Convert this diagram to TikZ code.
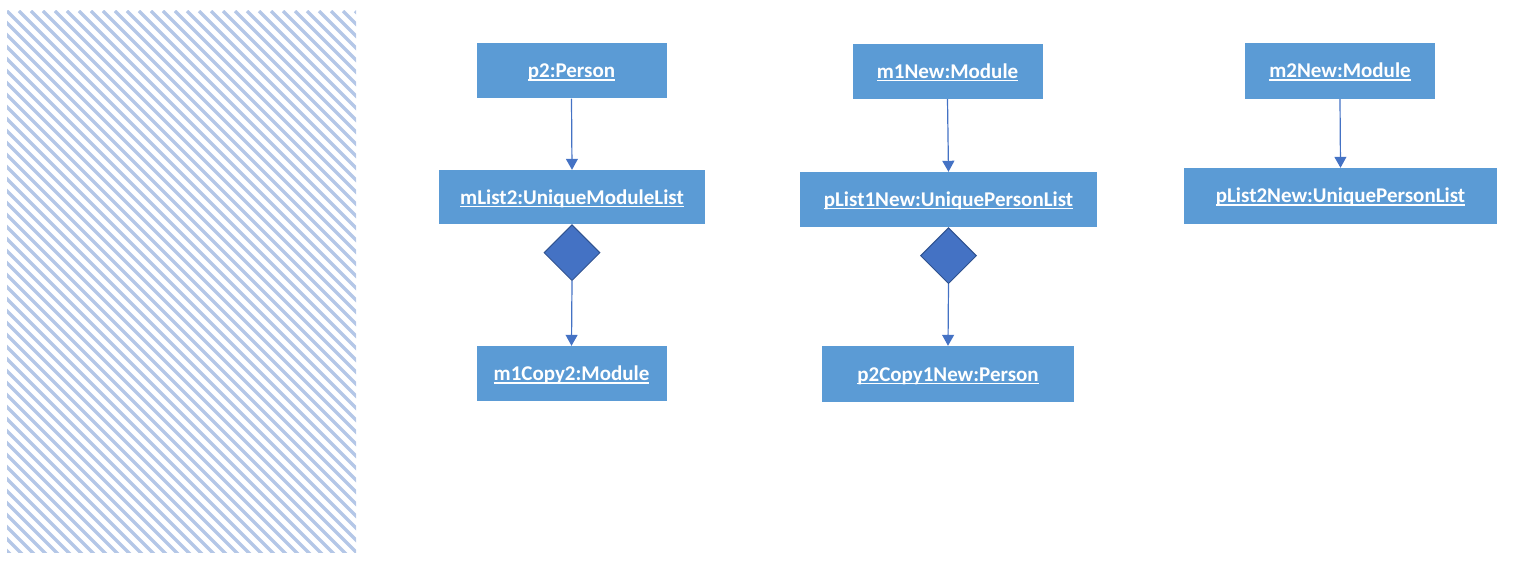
\documentclass[tikz,border=0pt]{standalone}
\usepackage{fontspec}
\setmainfont{Carlito}
\usetikzlibrary{arrows.meta,shapes.geometric}
\definecolor{boxblue}{HTML}{5B9BD5}
\definecolor{linkblue}{HTML}{4472C4}
\definecolor{diaborder}{HTML}{2F528F}
\definecolor{hatch}{HTML}{B4C7E7}
\newcommand{\ulbox}[1]{\setbox0\hbox{#1}\rlap{\rule[-3pt]{\wd0}{1.5pt}}\box0}
\tikzset{
  objbox/.style={rectangle, fill=boxblue, text=white, inner sep=0pt,
    font=\fontsize{21}{25}\selectfont\bfseries},
  compdia/.style={diamond, fill=linkblue, draw=diaborder, line width=1pt,
    inner sep=0pt, minimum width=56pt, minimum height=56pt, anchor=north},
  arr/.style={draw=linkblue, line width=1.2pt, -{Triangle[length=11pt,width=12pt]}}
}
\newcommand{\lbl}[1]{\raisebox{-7pt}[0pt][0pt]{\ulbox{#1}}}
\begin{document}
\begin{tikzpicture}[x=1pt,y=-1pt]
\useasboundingbox (0,0) rectangle (1516,567);
% hatched panel
\begin{scope}
\clip (7,11) rectangle (356,552);
\foreach \k in {-46,...,30} {
  \draw[hatch, line width=3.2pt] (7+\k*12,11) -- (7+\k*12+560,571);
}
\end{scope}
% boxes
\node[objbox, minimum width=190pt, minimum height=55pt] (p2) at (571.5,71) {\lbl{p2:Person}};
\node[objbox, minimum width=266pt, minimum height=54pt] (ml2) at (572,197) {\lbl{mList2:UniqueModuleList}};
\node[objbox, minimum width=190pt, minimum height=55pt] (m1c2) at (571.5,373.5) {\lbl{m1Copy2:Module}};
\node[objbox, minimum width=190pt, minimum height=55pt] (m1n) at (947.5,71.5) {\lbl{m1New:Module}};
\node[objbox, minimum width=297pt, minimum height=55pt] (pl1n) at (948.5,199.5) {\lbl{pList1New:UniquePersonList}};
\node[objbox, minimum width=252pt, minimum height=56pt] (p2c1n) at (948,374) {\lbl{p2Copy1New:Person}};
\node[objbox, minimum width=190pt, minimum height=56pt] (m2n) at (1340,71) {\lbl{m2New:Module}};
\node[objbox, minimum width=313pt, minimum height=56pt] (pl2n) at (1340.5,196) {\lbl{pList2New:UniquePersonList}};
% diamonds
\node[compdia] (d1) at (ml2.south) {};
\node[compdia] (d2) at (pl1n.south) {};
% connectors
\draw[arr] (p2.south) -- (ml2.north);
\draw[arr] (d1.south) -- (m1c2.north);
\draw[arr] (m1n.south) -- (pl1n.north);
\draw[arr] (d2.south) -- (p2c1n.north);
\draw[arr] (m2n.south) -- (pl2n.north);
\end{tikzpicture}
\end{document}
